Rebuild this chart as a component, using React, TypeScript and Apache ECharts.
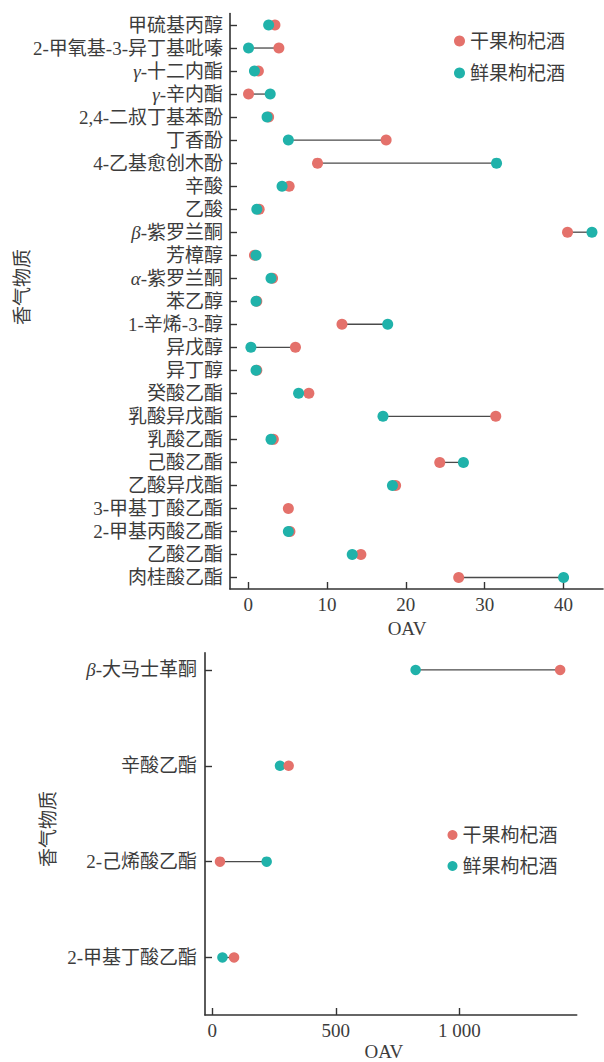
import React, { useEffect, useRef } from 'react';
import * as echarts from 'echarts';

const topCategories = [
  '甲硫基丙醇', '2-甲氧基-3-异丁基吡嗪', 'γ-十二内酯', 'γ-辛内酯', '2,4-二叔丁基苯酚',
  '丁香酚', '4-乙基愈创木酚', '辛酸', '乙酸', 'β-紫罗兰酮', '芳樟醇', 'α-紫罗兰酮',
  '苯乙醇', '1-辛烯-3-醇', '异戊醇', '异丁醇', '癸酸乙酯', '乳酸异戊酯', '乳酸乙酯',
  '己酸乙酯', '乙酸异戊酯', '3-甲基丁酸乙酯', '2-甲基丙酸乙酯', '乙酸乙酯', '肉桂酸乙酯',
];
const topDried = [3.4, 3.9, 1.3, 0.05, 2.6, 17.5, 8.8, 5.2, 1.4, 40.5, 0.8, 3.1, 1.1, 11.9, 6.0, 1.1, 7.7, 31.4, 3.2, 24.3, 18.7, 5.1, 5.3, 14.3, 26.7];
const topFresh: (number | null)[] = [2.6, 0.05, 0.8, 2.8, 2.4, 5.1, 31.5, 4.3, 1.1, 43.6, 1.0, 2.9, 1.0, 17.7, 0.35, 1.0, 6.4, 17.1, 2.9, 27.3, 18.3, null, 5.1, 13.2, 40.0];
const topTicks = [0, 10, 20, 30, 40];

const bottomCategories = ['β-大马士革酮', '辛酸乙酯', '2-己烯酸乙酯', '2-甲基丁酸乙酯'];
const bottomDried = [1408, 309, 31, 88];
const bottomFresh = [823, 274, 220, 41];
const bottomTicks = [0, 500, 1000];

const seriesNames = ['干果枸杞酒', '鲜果枸杞酒'];
const RED = '#E4716B';
const TEAL = '#20B2AA';
const TXT = '#3c3c3c';
const AX = '#333333';
const FONT = "'Liberation Serif', 'Noto Sans CJK SC', serif";
const FS = 19;

const rich = {
  g: { fontStyle: 'italic', fontFamily: FONT, fontSize: FS, color: TXT },
  n: { fontFamily: FONT, fontSize: FS, color: TXT },
};
const fmtName = (v: string) =>
  /^[αβγ]/.test(v) ? `{g|${v[0]}}{n|${v.slice(1)}}` : `{n|${v}}`;

const thousand = (v: number) => {
  const s = String(Math.round(v));
  return s.replace(/\B(?=(\d{3})+(?!\d))/g, ' ');
};

const lineRender = (params: any, api: any) => {
  const a = api.value(0);
  const b = api.value(1);
  const c = api.value(2);
  if (a == null || b == null || isNaN(a) || isNaN(b)) return null;
  const p1 = api.coord([a, c]);
  const p2 = api.coord([b, c]);
  return {
    type: 'line',
    shape: { x1: p1[0], y1: p1[1], x2: p2[0], y2: p2[1] },
    style: { stroke: '#4a4a4a', lineWidth: 1.3 },
  };
};

export default function App() {
  const ref = useRef<HTMLDivElement>(null);
  useEffect(() => {
    if (!ref.current) return;
    const chart = echarts.init(ref.current, undefined, { renderer: 'svg' });

    const axisLineStyle = { show: true, onZero: false, lineStyle: { color: AX, width: 1.6 } };
    const tickStyle = { show: true, inside: true, length: 7, lineStyle: { color: AX, width: 1.4 } };

    const topLineData = topCategories
      .map((_, i) => (topFresh[i] == null ? null : [topDried[i], topFresh[i], i]))
      .filter(Boolean);
    const bottomLineData = bottomCategories.map((_, i) => [bottomDried[i], bottomFresh[i], i]);

    const option: any = {
      animation: false,
      backgroundColor: '#ffffff',
      textStyle: { fontFamily: FONT, color: TXT },
      grid: [
        { left: 230, top: 13.5, width: 373, height: 575.5, containLabel: false },
        { left: 205, top: 652.7, width: 371.7, height: 365, containLabel: false },
      ],
      legend: [
        {
          orient: 'vertical', left: 449, top: 26, icon: 'circle',
          itemWidth: 11, itemHeight: 11, itemGap: 12,
          data: seriesNames,
          textStyle: { fontFamily: FONT, fontSize: FS, color: TXT, lineHeight: 20 },
        },
        {
          orient: 'vertical', left: 442.5, top: 820, icon: 'circle',
          itemWidth: 10, itemHeight: 10, itemGap: 11,
          data: seriesNames,
          textStyle: { fontFamily: FONT, fontSize: FS, color: TXT, lineHeight: 20 },
        },
      ],
      xAxis: [
        {
          type: 'value', gridIndex: 0, min: -2.3, max: 45, position: 'bottom',
          axisLine: axisLineStyle,
          axisTick: { ...tickStyle, customValues: topTicks },
          axisLabel: { customValues: topTicks, fontFamily: FONT, fontSize: FS, color: TXT, margin: 6 },
          splitLine: { show: false },
          name: 'OAV', nameLocation: 'middle', nameGap: 28,
          nameTextStyle: { fontFamily: FONT, fontSize: FS, color: TXT, padding: [0, 19, 0, 0] },
        },
        {
          type: 'value', gridIndex: 1, min: -29.6, max: 1475, position: 'bottom',
          axisLine: axisLineStyle,
          axisTick: { ...tickStyle, customValues: bottomTicks },
          axisLabel: { customValues: bottomTicks, fontFamily: FONT, fontSize: FS, color: TXT, margin: 6, formatter: thousand },
          splitLine: { show: false },
          name: 'OAV', nameLocation: 'middle', nameGap: 27,
          nameTextStyle: { fontFamily: FONT, fontSize: FS, color: TXT, padding: [0, 14, 0, 0] },
        },
      ],
      yAxis: [
        {
          type: 'category', gridIndex: 0, inverse: true, data: topCategories,
          boundaryGap: true, position: 'left',
          axisLine: axisLineStyle,
          axisTick: { ...tickStyle, alignWithLabel: true },
          axisLabel: { interval: 0, margin: 7, fontFamily: FONT, fontSize: FS, color: TXT, formatter: fmtName, rich },
          splitLine: { show: false },
        },
        {
          type: 'value', gridIndex: 1, inverse: true, min: -0.18, max: 3.6, position: 'left',
          axisLine: axisLineStyle,
          axisTick: { ...tickStyle, customValues: [0, 1, 2, 3] },
          axisLabel: {
            customValues: [0, 1, 2, 3], margin: 8, fontFamily: FONT, fontSize: FS, color: TXT,
            formatter: (v: number) => fmtName(bottomCategories[Math.round(v)] || ''), rich,
          },
          splitLine: { show: false },
        },
      ],
      graphic: [
        {
          type: 'text', x: 22, y: 287, rotation: Math.PI / 2,
          style: {
            text: '香气物质', fontSize: FS, fontFamily: FONT, fill: TXT,
            align: 'center', verticalAlign: 'middle', textAlign: 'center', textVerticalAlign: 'middle',
          },
        },
        {
          type: 'text', x: 48, y: 829, rotation: Math.PI / 2,
          style: {
            text: '香气物质', fontSize: FS, fontFamily: FONT, fill: TXT,
            align: 'center', verticalAlign: 'middle', textAlign: 'center', textVerticalAlign: 'middle',
          },
        },
      ],
      series: [
        {
          type: 'custom', xAxisIndex: 0, yAxisIndex: 0, renderItem: lineRender,
          data: topLineData, encode: { x: [0, 1], y: 2 }, silent: true, z: 1,
        },
        {
          type: 'scatter', name: seriesNames[0], xAxisIndex: 0, yAxisIndex: 0,
          symbolSize: 11, itemStyle: { color: RED, opacity: 1 }, z: 2,
          data: topDried.map((v, i) => [v, i]),
        },
        {
          type: 'scatter', name: seriesNames[1], xAxisIndex: 0, yAxisIndex: 0,
          symbolSize: 11, itemStyle: { color: TEAL, opacity: 1 }, z: 3,
          data: topFresh.map((v, i) => (v == null ? null : [v, i])).filter(Boolean),
        },
        {
          type: 'custom', xAxisIndex: 1, yAxisIndex: 1, renderItem: lineRender,
          data: bottomLineData, encode: { x: [0, 1], y: 2 }, silent: true, z: 1,
        },
        {
          type: 'scatter', name: seriesNames[1], xAxisIndex: 1, yAxisIndex: 1,
          symbolSize: 10.5, itemStyle: { color: TEAL, opacity: 1 }, z: 2,
          data: bottomFresh.map((v, i) => [v, i]),
        },
        {
          type: 'scatter', name: seriesNames[0], xAxisIndex: 1, yAxisIndex: 1,
          symbolSize: 10.5, itemStyle: { color: RED, opacity: 1 }, z: 3,
          data: bottomDried.map((v, i) => [v, i]),
        },
      ],
    };
    chart.setOption(option);
    return () => chart.dispose();
  }, []);
  return (
    <div
      ref={ref}
      style={{ position: 'fixed', left: 0, top: 0, width: 604, height: 1062, background: '#fff' }}
    />
  );
}
